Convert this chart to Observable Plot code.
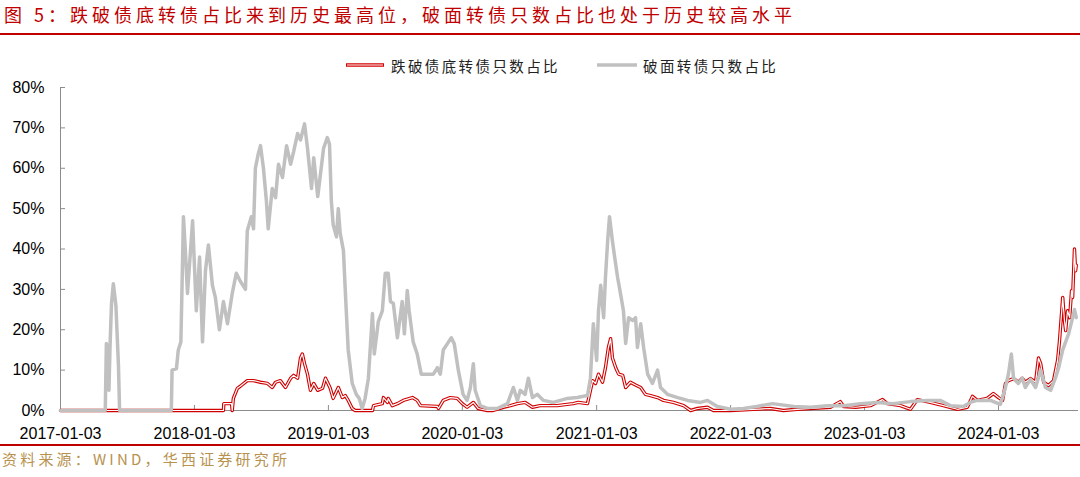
<!DOCTYPE html>
<html>
<head>
<meta charset="utf-8">
<script src="https://cdn.jsdelivr.net/npm/d3@7"></script>
<script src="https://cdn.jsdelivr.net/npm/@observablehq/plot@0.6"></script>
<style>
  html, body { margin: 0; padding: 0; background: #fff; }
  #wrap { position: relative; width: 1080px; height: 477px; overflow: hidden; font-family: "Noto Sans CJK SC", "Noto Sans", sans-serif; }
  #title { position: absolute; left: 4px; top: 2px; font-size: 18px; letter-spacing: 4px; color: #c00000; white-space: nowrap; line-height: 24px; }
  .hr { position: absolute; left: 0; width: 1080px; height: 2px; background: #c00000; }
  #legend { position: absolute; top: 54px; left: 0; width: 1080px; height: 22px; font-size: 14.5px; letter-spacing: 2.4px; color: #222; }
  .lg { position: absolute; top: 0; display: flex; align-items: center; height: 22px; white-space: nowrap; }
  .sw { width: 40px; margin-right: 6px; }
  #source { position: absolute; left: 2px; top: 449px; font-size: 15px; letter-spacing: 3.2px; color: #b8924f; white-space: nowrap; line-height: 20px; }
  #chart { position: absolute; left: 0; top: 0; }
</style>
</head>
<body>
<div id="wrap">
  <div id="chart"></div>
  <div id="title">图 5：跌破债底转债占比来到历史最高位，破面转债只数占比也处于历史较高水平</div>
  <div class="hr" style="top:33px"></div>
  <div id="legend"></div>
  <div class="hr" style="top:444px"></div>
  <div id="source">资料来源：WIND，华西证券研究所</div>
</div>
<script>
// ---------- data ----------
const seriesNames = ["跌破债底转债只数占比", "破面转债只数占比"];
const seriesColors = ["#d10000", "#c0c0c0"];

const xTickLabels = ["2017-01-03","2018-01-03","2019-01-03","2020-01-03","2021-01-03","2022-01-03","2023-01-03","2024-01-03"];
const yTickValues = [0,10,20,30,40,50,60,70,80];
const xDomain = ["2017-01-03", "2024-08-08"];

// 破面转债只数占比 (%)
const grayDates = [
"2017-01-03","2017-05-05","2017-05-08","2017-05-12","2017-05-15","2017-05-18","2017-05-22","2017-05-27","2017-06-03","2017-06-10","2017-06-13",
"2017-11-01","2017-11-03","2017-11-15","2017-11-20","2017-11-27","2017-11-30","2017-12-04","2017-12-09","2017-12-15","2017-12-29",
"2018-01-08","2018-01-17","2018-01-25","2018-02-02","2018-02-10","2018-02-21","2018-03-01","2018-03-12","2018-03-23","2018-04-03",
"2018-04-16","2018-04-27","2018-05-08","2018-05-22","2018-05-27","2018-06-07","2018-06-13","2018-06-18","2018-06-26","2018-07-02",
"2018-07-10","2018-07-18","2018-07-23","2018-08-03","2018-08-12","2018-08-20","2018-08-31","2018-09-11","2018-09-22","2018-09-30",
"2018-10-11","2018-10-19","2018-10-30","2018-11-07","2018-11-18","2018-11-24","2018-12-05","2018-12-13","2018-12-21","2018-12-31",
"2019-01-06","2019-01-11","2019-01-16","2019-01-25","2019-01-30","2019-02-04","2019-02-13","2019-02-18","2019-02-26","2019-03-09",
"2019-03-20","2019-03-28","2019-04-05","2019-04-13","2019-04-22","2019-05-03","2019-05-08","2019-05-19","2019-05-30","2019-06-07",
"2019-06-15","2019-06-21","2019-06-29","2019-07-10","2019-07-15","2019-07-23","2019-07-29","2019-08-06","2019-08-11","2019-08-22",
"2019-09-02","2019-09-13","2019-09-30","2019-10-16","2019-10-27","2019-11-04","2019-11-12","2019-11-23","2019-12-04","2019-12-12",
"2019-12-23","2020-01-05","2020-01-16","2020-01-25","2020-02-02","2020-02-07","2020-02-21","2020-03-11","2020-04-07","2020-05-05",
"2020-05-21","2020-06-01","2020-06-09","2020-06-22","2020-07-01","2020-07-12","2020-07-25","2020-08-11","2020-09-07","2020-10-15",
"2020-11-11","2020-12-09","2020-12-17","2020-12-25","2021-01-03","2021-01-08","2021-01-14","2021-01-22","2021-01-27","2021-02-02",
"2021-02-07","2021-02-15","2021-02-21","2021-03-01","2021-03-06","2021-03-17","2021-03-23","2021-03-31","2021-04-11","2021-04-19",
"2021-04-24","2021-05-03","2021-05-11","2021-05-22","2021-06-04","2021-06-18","2021-06-26","2021-07-15","2021-08-12","2021-09-08",
"2021-10-13","2021-11-01","2021-11-28","2022-01-03","2022-02-07","2022-03-15","2022-04-27","2022-06-24","2022-08-09","2022-09-24",
"2022-11-07","2022-12-23","2023-02-07","2023-03-22","2023-05-08","2023-06-23","2023-07-28","2023-08-25","2023-09-29","2023-10-18",
"2023-11-06","2023-12-12","2024-01-08","2024-01-22","2024-01-30","2024-02-07","2024-02-13","2024-02-26","2024-03-08","2024-03-16",
"2024-03-30","2024-04-13","2024-04-27","2024-05-10","2024-05-24","2024-06-06","2024-06-15","2024-06-26","2024-07-04","2024-07-12",
"2024-07-23","2024-07-28","2024-08-02"
];
const grayValues = [
0,0,16.6,15.5,5,16,26.5,31.4,26,11,0,
0,10,10.4,15,17,30,48,40,29,47,
24.7,38,17,34.6,41,31,28,20,27,21.5,
29,34,32,30,44.5,48,45,60,63.6,65.6,
60,52,45,55,52.7,61,57.7,65.6,61,64,
68.6,67,71,65,55,62.6,53,59,65,67.6,
66,52,46,43,50,44,39.6,29.7,15,6.7,
4,3,0.5,3,8,24,14,22,24.7,34,
34,27,26.5,18,21.5,27,19,29.7,24.7,17,
14,9,9,9,10.6,9,15,16.5,18,16.5,
10,4,2.5,5.7,11.6,5,1.2,0.5,0.5,1.7,
5.7,2.5,5,4,8,3.2,4,2.5,2,3,
3.2,3.7,8,21.5,12.4,24.7,31,23,33,42,
48,42,38,33,30.5,24.7,16.6,23,22.3,23,
15.6,21.5,15.6,9,6.7,10,5.7,4,3.2,2.5,
2,2.5,1,0.3,0.5,1,1.7,1,0.8,1.2,
1.2,1.7,2,1.7,2.2,2.5,2.5,1.2,1,2,
2.5,2.5,1.5,5.7,9,14,8,6.7,8,5.7,
7.7,5.7,10,5.7,5,8,10.6,15,17,19,
23,25,23
];

// 跌破债底转债只数占比 (%)
const redDates = [
"2017-01-03","2018-03-23","2018-03-24","2018-04-14","2018-04-16","2018-04-19","2018-04-30","2018-05-08","2018-05-27","2018-06-13",
"2018-07-02","2018-07-21","2018-08-03","2018-08-12","2018-08-25","2018-09-08","2018-09-22","2018-09-30","2018-10-11","2018-10-19",
"2018-10-24","2018-10-30","2018-11-07","2018-11-15","2018-11-24","2018-12-05","2018-12-18","2018-12-26","2019-01-03","2019-01-08",
"2019-01-16","2019-01-30","2019-02-10","2019-02-18","2019-02-26","2019-03-09","2019-03-17","2019-05-03","2019-05-06","2019-05-30",
"2019-06-02","2019-06-13","2019-06-15","2019-06-26","2019-07-10","2019-07-26","2019-08-20","2019-09-02","2019-09-11","2019-10-27",
"2019-10-30","2019-11-12","2019-12-01","2019-12-20","2020-01-03","2020-01-16","2020-02-02","2020-02-15","2020-03-11","2020-03-27",
"2020-04-24","2020-05-13","2020-06-01","2020-06-22","2020-07-12","2020-08-02","2020-09-17","2020-10-31","2020-11-14","2020-12-09",
"2020-12-17","2020-12-23","2020-12-31","2021-01-08","2021-01-19","2021-01-27","2021-02-04","2021-02-10","2021-02-15","2021-02-24",
"2021-03-04","2021-03-15","2021-03-23","2021-04-05","2021-04-19","2021-05-03","2021-05-16","2021-05-30","2021-06-18","2021-07-04",
"2021-07-31","2021-08-28","2021-09-16","2021-10-05","2021-11-01","2021-11-17","2022-01-03","2022-03-06","2022-04-21","2022-05-27",
"2022-07-04","2022-08-09","2022-10-02","2022-10-29","2022-11-07","2022-12-10","2023-01-19","2023-02-21","2023-03-06","2023-04-11",
"2023-05-08","2023-05-27","2023-07-01","2023-08-06","2023-09-13","2023-10-10","2023-10-24","2023-11-06","2023-12-03","2023-12-20",
"2024-01-03","2024-01-14","2024-01-22","2024-01-30","2024-02-13","2024-02-26","2024-03-08","2024-03-16","2024-03-30","2024-04-13",
"2024-04-21","2024-04-27","2024-05-05","2024-05-18","2024-06-01","2024-06-12","2024-06-17","2024-06-26","2024-06-28","2024-07-01",
"2024-07-04","2024-07-09","2024-07-15","2024-07-20","2024-07-23","2024-07-28","2024-07-31","2024-08-02"
];
const redValues = [
0,0,1.7,1.7,0,3,5.5,6,7.4,7.4,
7,6.7,5.7,7,7.4,5.7,8,8.7,8,13,
14,11.6,9,5,6.7,5,5.5,8,6.5,5.5,
3,5.7,3.2,3.7,2.5,0.5,0,0,1.2,1.7,
3.2,2,3,1.2,1.7,2.5,3.2,2.5,1.2,1,
0.5,2.5,3.2,3,1.7,0.8,2,0.5,0,0,
0.8,1.2,1.7,2,0.8,1.2,1.2,1.7,2,1.7,
5,7.4,6.7,9,7,10.6,15.6,17.8,13,10.6,
9,8.7,5.7,7,6.3,5.7,4,3.7,3.2,2.5,
2,1.2,0,0.5,0.8,0,0,0.3,0.5,0,
0.3,0.5,0.8,2.2,1,0.8,1.2,2.7,1.7,1.2,
0.3,2.7,2,1.2,0.3,0.8,3.5,2.5,3,4.2,
3.2,2.5,6.7,7.4,7.9,7,8,7,7.9,7,
13,11.6,7,6.2,7.4,12.4,17,28,25.5,22,
19.8,24.7,23,29.7,28,40,34.6,36
];

// ---------- build ----------
const parse = d3.utcParse("%Y-%m-%d");
const red = redDates.map((d, i) => ({date: parse(d), value: redValues[i]}));
const gray = grayDates.map((d, i) => ({date: parse(d), value: grayValues[i]}));
const xTicks = xTickLabels.map(parse);
const axisColor = "#8c8c8c";

const chart = Plot.plot({
  width: 1080,
  height: 477,
  marginTop: 87,
  marginBottom: 67,
  marginLeft: 60,
  marginRight: 2,
  style: {fontFamily: "'Liberation Sans', Arial, sans-serif", fontSize: "16px", color: "#000", background: "transparent"},
  x: {type: "utc", domain: xDomain.map(parse)},
  y: {domain: [0, 80]},
  marks: [
    Plot.ruleY([0], {stroke: axisColor, strokeWidth: 1}),
    Plot.ruleX([xTicks[0]], {stroke: axisColor, strokeWidth: 1}),
    Plot.axisY({ticks: yTickValues, tickSize: 5, dx: 5, tickFormat: () => "", label: null, stroke: axisColor}),
    Plot.axisX({ticks: xTicks, tickSize: 5, dy: -5, tickFormat: () => "", label: null, stroke: axisColor}),
    Plot.line(red, {x: "date", y: "value", stroke: seriesColors[0], strokeWidth: 3.4, curve: "linear"}),
    Plot.line(red, {x: "date", y: "value", stroke: "#ffffff", strokeWidth: 1.2, curve: "linear"}),
    Plot.line(gray, {x: "date", y: "value", stroke: seriesColors[1], strokeWidth: 3.5, curve: "linear"}),
    Plot.axisY({ticks: yTickValues, tickSize: 0, tickPadding: 16, tickFormat: d => d + "%", label: null, fontSize: 16}),
    Plot.axisX({ticks: xTicks, tickSize: 0, tickPadding: 17, tickFormat: d3.utcFormat("%Y-%m-%d"), label: null, fontSize: 16})
  ]
});
document.getElementById("chart").appendChild(chart);

// ---------- legend ----------
const legend = document.getElementById("legend");
const legendLeft = [345, 597];
seriesNames.forEach((name, i) => {
  const item = document.createElement("div");
  item.className = "lg";
  item.style.left = legendLeft[i] + "px";
  const sw = document.createElementNS("http://www.w3.org/2000/svg", "svg");
  sw.setAttribute("class", "sw");
  sw.setAttribute("width", "40");
  sw.setAttribute("height", "8");
  if (i === 0) {
    sw.innerHTML = `<line x1="1" y1="4" x2="39" y2="4" stroke="${seriesColors[0]}" stroke-width="3.4"/><line x1="2" y1="4" x2="38" y2="4" stroke="#fff" stroke-width="1.2"/>`;
  } else {
    sw.innerHTML = `<line x1="0" y1="4" x2="40" y2="4" stroke="${seriesColors[1]}" stroke-width="3.5"/>`;
  }
  item.appendChild(sw);
  const t = document.createElement("span");
  t.textContent = name;
  item.appendChild(t);
  legend.appendChild(item);
});
</script>
</body>
</html>
